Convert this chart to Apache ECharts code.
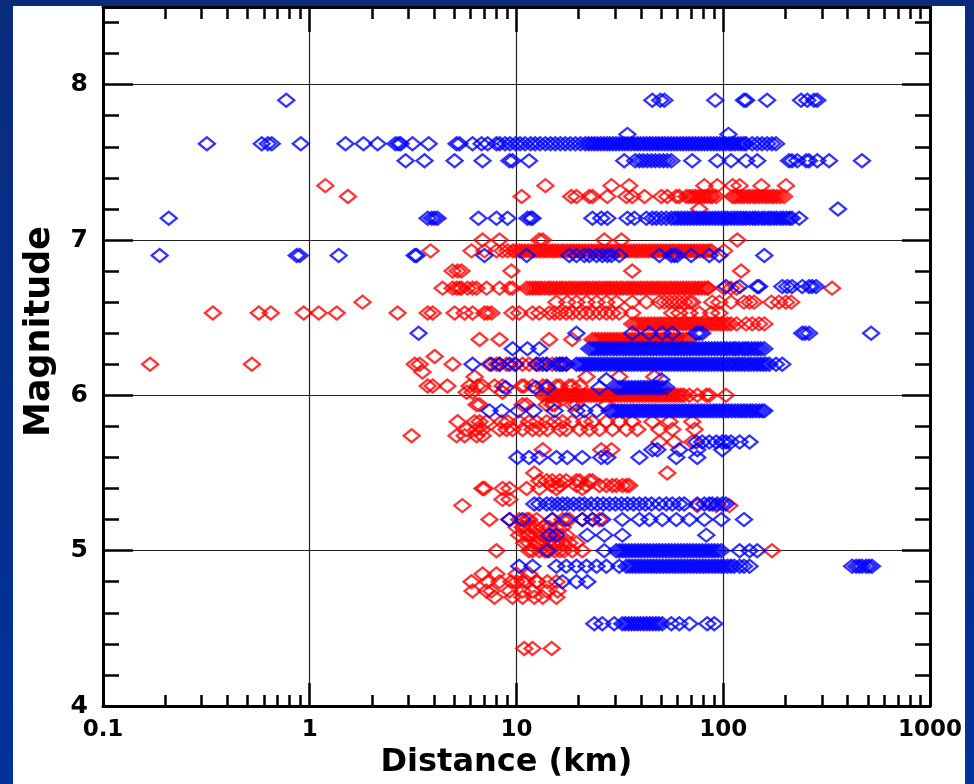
<!DOCTYPE html>
<html>
<head>
<meta charset="utf-8">
<script src="https://cdn.jsdelivr.net/npm/echarts@6/dist/echarts.min.js"></script>
<style>
  html, body { margin: 0; padding: 0; }
  body { width: 974px; height: 784px; overflow: hidden; background: linear-gradient(180deg, #0a2b7c 0%, #00339c 100%); position: relative; }
  #panel { position: absolute; left: 13px; top: 6px; width: 952px; height: 778px; background: #ffffff; }
  #chart { width: 952px; height: 778px; }
</style>
</head>
<body>
<div id="panel"><div id="chart"></div></div>
<script>
// ---------- tick labels ----------
const xTickValues = [0.1, 1, 10, 100, 1000];
const xMinorTicks = [0.2,0.3,0.4,0.5,0.6,0.7,0.8,0.9, 2,3,4,5,6,7,8,9, 20,30,40,50,60,70,80,90, 200,300,400,500,600,700,800,900];
const yTickValues = [4, 5, 6, 7, 8];
const yMinorTicks = [4.2,4.4,4.6,4.8, 5.2,5.4,5.6,5.8, 6.2,6.4,6.6,6.8, 7.2,7.4,7.6,7.8, 8.2,8.4];

// ---------- blue series (distance km per magnitude row) ----------
const blue_7_90 = [0.77, 45.4, 49.6, 51.9, 91.5, 126, 129, 163, 238, 255, 275, 285];
const blue_7_68 = [34.4, 106];
const blue_7_62 = [0.318, 0.586, 0.627, 0.655, 0.905, 1.49, 1.82, 2.13, 2.6, 2.69, 2.75, 3.14, 3.76, 5.13, 5.3, 6.13, 6.78, 7.25, 8.0,
  8.3, 8.8, 9.3, 9.9, 10.4, 11.0, 11.7, 12.3, 13.0, 13.8, 14.6, 15.4, 16.3, 17.2, 18.2, 19.3, 20.4, 21.5,
  22.3, 23.1, 23.9, 24.7, 25.6, 26.5, 27.4, 28.3, 29.3, 30.3, 31.4, 32.5, 33.6, 34.7, 35.9, 37.2, 38.5, 39.8, 41.2, 42.6,
  44.1, 45.6, 47.2, 48.8, 50.5, 52.2, 54.0, 55.9, 57.8, 59.8, 61.9, 64.0, 66.2, 68.5, 70.9, 73.3, 75.9, 78.5, 81.2, 84.0,
  86.9, 89.9, 93.0, 96.2, 99.6, 103, 107, 110, 114, 118, 122, 126, 129, 138, 146, 154, 163, 172, 180];
const blue_7_51 = [2.91, 3.59, 5.02, 6.85, 9.25, 9.56, 11.5, 33.2, 37.5, 39.3, 41.0, 42.9, 44.9, 46.9, 49.1, 51.3, 53.6, 56.1,
  70.8, 93.6, 109, 129, 146, 208, 215, 228, 252, 260, 285, 325, 469];
const blue_7_20 = [359];
const blue_7_14 = [0.208, 3.72, 3.89, 4.02, 4.15, 6.55, 8.0, 9.05, 11.3, 11.7, 11.95, 23.3, 25.7, 27.5, 34.4, 37.2, 42.5, 45.4,
  47.5, 50.2, 53.0, 56.1, 58.3, 60.4, 62.6, 64.9, 67.2, 69.6, 72.0, 74.5, 77.1, 79.8, 82.6, 85.5, 88.5, 91.6, 94.8, 98.1,
  102, 105, 109, 113, 117, 121, 125, 129, 134, 139, 143, 148, 154, 159, 165, 170, 176, 182, 189, 195, 202, 209, 215, 233];
const blue_6_90 = [0.188, 0.865, 0.895, 1.38, 3.22, 3.29, 7.0, 11.2, 18.0, 19.5, 21.3, 22.5, 24.4, 26.0, 27.5, 28.8, 31.4,
  49.1, 56.1, 58.0, 59.9, 70.0, 85.6, 95.7, 158];
const blue_6_70 = [103, 120, 146, 149, 193, 204, 215, 241, 260, 269, 281];
const blue_6_40 = [3.36, 19.5, 36.3, 43.9, 50.7, 56.7, 74.0, 76.5, 79.1, 241, 249, 260, 519];
const blue_6_30 = [9.58, 11.3, 12.9, 22.5, 23.3, 24.1, 24.9, 25.8, 26.7, 27.6, 28.6, 29.6, 30.6, 31.7, 32.8, 33.9, 35.1, 36.3,
  37.5, 38.8, 40.2, 41.6, 43.0, 44.5, 46.0, 47.6, 49.3, 51.0, 52.8, 54.6, 56.5, 58.4, 60.4, 62.5, 64.7, 66.9, 69.2, 71.6,
  74.1, 76.7, 79.4, 82.1, 85.0, 87.9, 91.0, 94.1, 97.4, 101, 104, 108, 112, 115, 119, 124, 128, 132, 137, 142, 147, 152, 158];
const blue_6_20 = [6.13, 7.56, 8.28, 9.25, 9.9, 12.5, 13.4, 14.0, 15.6, 16.2, 16.7, 17.4, 19.5, 20.2, 20.9, 21.6, 22.4, 23.1,
  23.9, 24.8, 25.6, 26.5, 27.4, 28.4, 29.4, 30.4, 31.5, 32.6, 33.7, 34.9, 36.1, 37.3, 38.6, 40.0, 41.3, 42.8, 44.3, 45.8,
  47.4, 49.0, 50.7, 52.5, 54.3, 56.2, 58.2, 60.2, 62.3, 64.4, 66.7, 69.0, 71.4, 73.8, 76.4, 79.0, 81.8, 84.6, 87.6, 90.6,
  93.7, 97.0, 100, 104, 107, 111, 115, 119, 123, 127, 132, 136, 141, 146, 151, 156, 161, 167, 180, 193];
const blue_6_10 = [27.2, 50.2];
const blue_6_05 = [8.85, 12.4, 14.1, 25.2, 30.4, 31.5, 32.6, 33.7, 34.9, 36.1, 37.4, 38.7, 40.0, 41.4, 42.8, 44.3, 45.9,
  47.5, 49.1, 50.8, 53.0];
const blue_5_90 = [7.40, 8.48, 10.2, 12.1, 15.3, 19.5, 21.3, 24.4, 28.2, 29.1, 30.1, 31.1, 32.2, 33.3, 34.5, 35.7, 36.9,
  38.2, 39.5, 40.9, 42.3, 43.8, 45.3, 46.9, 48.5, 50.2, 51.9, 53.7, 55.6, 57.5, 59.5, 61.6, 63.7, 65.9, 68.2, 70.6, 73.0,
  75.6, 78.2, 80.9, 83.7, 86.6, 89.6, 92.7, 95.9, 99.2, 103, 106, 110, 114, 118, 122, 126, 130, 135, 139, 144, 149, 154, 158];
const blue_5_70 = [74.0, 79.1, 85.6, 92.5, 98.9, 103, 109, 120, 134];
const blue_5_65 = [45.4, 48.0, 61.3, 74.9, 98.9];
const blue_5_60 = [10.1, 11.5, 12.9, 15.6, 17.6, 20.8, 25.7, 27.5, 39.3, 59.3, 74.9];
const blue_5_30 = [12.2, 12.9, 14.0, 14.8, 15.8, 16.7, 17.6, 18.9, 20.2, 21.3, 23.0, 24.6, 26.3, 28.2, 30.1, 32.2, 34.4,
  36.8, 39.3, 42.0, 44.9, 49.1, 53.0, 56.7, 61.3, 64.8, 74.9, 81.0, 85.6, 88.5, 93.6, 98.9, 103];
const blue_5_20 = [9.25, 10.7, 14.9, 17.4, 20.8, 23.3, 26.0, 32.5, 39.3, 43.9, 50.7, 59.3, 68.6, 81.0, 97.8, 126];
const blue_5_10 = [14.4, 15.6, 22.0, 26.6, 32.5, 82.8];
const blue_5_00 = [14.1, 26.6, 30.4, 31.5, 32.6, 33.7, 34.9, 36.1, 37.4, 38.7, 40.0, 41.4, 42.8, 44.3, 45.9, 47.5, 49.1,
  50.8, 52.6, 54.4, 56.3, 58.3, 60.3, 62.4, 64.6, 66.8, 69.1, 71.5, 74.0, 76.6, 79.3, 82.0, 84.9, 87.9, 90.9, 94.1, 97.8,
  120, 134, 146];
const blue_4_90 = [10.3, 11.95, 15.6, 17.4, 19.5, 21.8, 24.4, 27.2, 31.4, 34.0, 35.2, 36.4, 37.7, 39.0, 40.3, 41.7, 43.2,
  44.7, 46.2, 47.8, 49.5, 51.2, 53.0, 54.8, 56.7, 58.7, 60.7, 62.8, 65.0, 67.3, 69.6, 72.0, 74.5, 77.1, 79.8, 82.5, 85.4,
  88.4, 91.4, 94.6, 97.9, 101, 105, 109, 113, 120, 126, 134, 420, 439, 454, 469, 491, 507, 524];
const blue_4_80 = [16.7, 19.5, 22.0];
const blue_4_53 = [23.8, 26.0, 29.7, 32.5, 33.6, 34.8, 36.0, 37.2, 38.5, 39.8, 41.2, 42.6, 44.1, 45.6, 47.2, 48.8, 50.7,
  56.1, 61.3, 68.6, 83.7, 90.5];

// ---------- red series (distance km per magnitude row) ----------
const red_7_35 = [1.19, 13.8, 28.8, 35.1, 81.0, 93.6, 111, 120, 153, 201];
const red_7_28 = [1.53, 10.6, 18.4, 19.5, 22.5, 23.3, 27.5, 34.0, 36.3, 41.6, 50.2, 53.6, 59.3, 61.3, 66.3, 68.6, 70.8,
  73.3, 75.9, 78.6, 81.0, 83.7, 86.6, 88.5, 92.5, 111, 114, 118, 122, 126, 131, 135, 140, 144, 149, 154, 160, 165, 171,
  176, 182, 189, 197];
const red_7_20 = [76.5];
const red_7_00 = [6.85, 8.28, 12.9, 13.4, 26.6, 32.2, 117];
const red_6_93 = [3.84, 6.06, 7.0, 8.0, 8.56, 9.06, 9.6, 9.9, 10.3, 10.6, 11.0, 11.4, 11.8, 12.2, 12.6, 13.0, 13.5, 13.9,
  14.4, 14.9, 15.4, 15.9, 16.5, 17.0, 17.6, 18.2, 18.8, 19.5, 20.1, 20.8, 21.5, 22.3, 23.0, 23.8, 24.6, 25.5, 26.3, 27.2,
  28.2, 29.1, 30.1, 31.2, 32.2, 33.3, 34.5, 35.6, 36.9, 38.1, 39.4, 40.8, 42.2, 43.6, 45.1, 46.6, 48.2, 49.9, 51.6, 53.3,
  55.2, 57.0, 59.0, 61.0, 63.1, 65.2, 67.4, 69.7, 72.1, 74.6, 77.1, 79.7, 82.5, 85.3, 87.7, 101];
const red_6_80 = [4.91, 5.19, 5.42, 9.45, 36.3, 122];
const red_6_69 = [4.39, 4.91, 5.13, 5.30, 5.42, 5.80, 6.13, 6.41, 7.16, 8.28, 9.25, 9.56, 11.2, 11.6, 12.0, 12.4, 12.8,
  13.2, 13.7, 14.2, 14.6, 15.1, 15.6, 16.2, 16.7, 17.3, 17.9, 18.5, 19.1, 19.8, 20.5, 21.2, 21.9, 22.6, 23.4, 24.2, 25.0,
  25.9, 26.8, 27.7, 28.6, 29.6, 30.6, 31.7, 32.7, 33.9, 35.0, 36.2, 37.4, 38.7, 40.0, 41.4, 42.8, 44.3, 45.8, 47.4, 49.0,
  50.6, 52.4, 54.2, 56.0, 57.9, 59.9, 61.9, 64.0, 66.2, 68.5, 70.8, 73.2, 75.7, 78.3, 81.0, 83.7, 84.6, 101, 109, 116, 336];
const red_6_60 = [1.80, 15.6, 17.6, 19.5, 21.8, 24.4, 27.2, 30.4, 36.3, 42.5, 49.1, 51.9, 55.0, 58.0, 61.3, 64.8, 68.6,
  70.8, 88.5, 95.7, 109, 126, 134, 141, 171, 186, 201, 213];
const red_6_53 = [0.34, 0.567, 0.648, 0.935, 1.105, 1.35, 2.66, 3.72, 3.93, 5.02, 5.61, 6.13, 7.0, 7.25, 7.56, 9.56, 10.3,
  11.95, 12.9, 14.4, 15.3, 16.2, 17.4, 18.6, 20.2, 21.8, 23.3, 25.2, 27.2, 29.1, 31.4, 36.3, 56.7, 61.3, 68.6, 76.5, 87.5, 95.7];
const red_6_46 = [36.3, 37.6, 39.0, 40.4, 41.8, 43.3, 44.9, 46.5, 48.2, 49.9, 51.7, 53.5, 55.5, 57.5, 59.5, 61.7, 63.9,
  66.2, 68.6, 71.1, 73.6, 76.3, 79.0, 81.9, 84.8, 87.9, 91.0, 94.3, 97.7, 101, 105, 109, 116, 129, 138, 149, 158];
const red_6_36 = [6.63, 8.28, 14.4, 18.6, 23.3, 24.1, 24.9, 25.8, 26.7, 27.6, 28.5, 29.5, 30.5, 31.5, 32.6, 33.7, 34.9,
  36.1, 37.3, 38.6, 39.9, 41.3, 42.7, 44.1, 45.6, 47.2, 48.8, 50.5, 52.2, 54.0, 55.8, 57.7, 59.7, 61.7, 63.8, 66.0, 68.3];
const red_6_25 = [4.02];
const red_6_20 = [0.169, 0.525, 3.22, 3.40, 4.91, 7.40, 8.0, 8.28, 8.95, 9.78, 10.7, 11.5, 12.5, 12.9, 14.0, 14.9, 16.2, 16.7, 17.4];
const red_6_15 = [3.51];
const red_6_12 = [6.27, 21.8, 31.4, 46.4];
const red_6_06 = [3.72, 3.93, 4.63, 5.93, 6.48, 6.85, 7.83, 8.56, 10.6, 10.9, 11.95, 13.4, 14.0, 15.6, 16.2, 18.0, 18.6, 20.2];
const red_6_02 = [5.74, 6.13, 8.56];
const red_6_00 = [13.4, 13.9, 14.3, 14.8, 15.3, 15.8, 16.4, 16.9, 17.5, 18.1, 18.7, 19.4, 20.0, 20.7, 21.4, 22.1, 22.9,
  23.7, 24.5, 25.3, 26.2, 27.1, 28.0, 28.9, 29.9, 30.9, 32.0, 33.1, 34.2, 35.4, 36.6, 37.8, 39.1, 40.4, 41.8, 43.2, 44.7,
  46.2, 47.8, 49.4, 51.1, 52.8, 54.6, 56.5, 58.4, 60.4, 62.5, 64.6, 68.6, 74.9, 82.8, 85.6, 103];
const red_5_94 = [6.41, 6.63, 10.7, 11.2, 14.0, 14.9, 15.3, 18.6, 19.5, 27.2];
const red_5_83 = [5.19, 6.27, 6.63, 7.16, 8.48, 9.06, 10.3, 11.5, 12.5, 14.0, 15.3, 16.7, 18.6, 21.3, 23.3, 27.2, 31.4, 36.3, 45.4, 55.0, 70.8];
const red_5_78 = [5.74, 6.41, 6.85, 8.28, 8.95, 9.56, 10.7, 11.95, 12.9, 14.1, 16.2, 17.4, 20.2, 22.5, 25.2, 29.1, 34.0, 38.4, 49.1, 56.7, 72.7];
const red_5_74 = [3.11, 5.13, 5.61, 6.41, 6.85];
const red_5_70 = [49.1, 58.0, 70.8];
const red_5_65 = [13.4, 25.7, 28.8];
const red_5_50 = [12.2, 53.6];
const red_5_45 = [12.9, 14.0, 14.9, 16.2, 17.4, 19.5, 20.2, 22.5, 23.3];
const red_5_42 = [14.8, 16.2, 19.5, 21.8, 25.2, 27.2, 29.1, 30.4, 32.5, 34.0, 35.1];
const red_5_40 = [6.85, 7.0, 8.56, 9.25, 11.2, 12.9, 15.6, 20.8];
const red_5_33 = [8.56, 9.25];
const red_5_29 = [5.47, 74.9, 92.5, 107];
const red_5_20 = [7.40, 9.25, 10.3, 11.2, 11.5, 12.5, 14.9, 16.7, 18.0, 20.8, 23.3, 25.2];
const red_5_15 = [10.0, 10.7, 11.2, 11.95, 12.5, 13.4, 14.4, 15.6, 16.7];
const red_5_10 = [10.3, 11.2, 11.5, 12.5, 13.4, 14.0, 14.9, 16.2, 17.4];
const red_5_05 = [10.9, 11.5, 12.5, 12.9, 14.0, 14.9, 15.6, 16.7, 18.0, 19.5];
const red_5_00 = [8.0, 11.5, 11.95, 12.9, 13.7, 14.4, 15.3, 16.2, 17.0, 18.6, 20.8, 172];
const red_4_85 = [6.85, 8.0, 10.0, 11.5];
const red_4_80 = [6.06, 7.25, 8.28, 9.45, 10.0, 10.7, 11.2, 12.5, 12.6, 14.1, 15.6];
const red_4_74 = [6.13, 7.16, 7.56, 9.25, 10.7, 11.95, 14.0, 15.8];
const red_4_70 = [7.83, 9.56, 10.7, 12.2, 13.4, 15.6];
const red_4_37 = [10.9, 11.95, 14.8];

const blueRows = [
  [7.90, blue_7_90], [7.68, blue_7_68], [7.62, blue_7_62], [7.51, blue_7_51], [7.20, blue_7_20], [7.14, blue_7_14],
  [6.90, blue_6_90], [6.70, blue_6_70], [6.40, blue_6_40], [6.30, blue_6_30], [6.20, blue_6_20], [6.10, blue_6_10],
  [6.05, blue_6_05], [5.90, blue_5_90], [5.70, blue_5_70], [5.65, blue_5_65], [5.60, blue_5_60], [5.30, blue_5_30],
  [5.20, blue_5_20], [5.10, blue_5_10], [5.00, blue_5_00], [4.90, blue_4_90], [4.80, blue_4_80], [4.53, blue_4_53]
];
const redRows = [
  [7.35, red_7_35], [7.28, red_7_28], [7.20, red_7_20], [7.00, red_7_00], [6.93, red_6_93], [6.80, red_6_80],
  [6.69, red_6_69], [6.60, red_6_60], [6.53, red_6_53], [6.46, red_6_46], [6.36, red_6_36], [6.25, red_6_25],
  [6.20, red_6_20], [6.15, red_6_15], [6.12, red_6_12], [6.06, red_6_06], [6.02, red_6_02], [6.00, red_6_00],
  [5.94, red_5_94], [5.83, red_5_83], [5.78, red_5_78], [5.74, red_5_74], [5.70, red_5_70], [5.65, red_5_65],
  [5.50, red_5_50], [5.45, red_5_45], [5.42, red_5_42], [5.40, red_5_40], [5.33, red_5_33], [5.29, red_5_29],
  [5.20, red_5_20], [5.15, red_5_15], [5.10, red_5_10], [5.05, red_5_05], [5.00, red_5_00], [4.85, red_4_85],
  [4.80, red_4_80], [4.74, red_4_74], [4.70, red_4_70], [4.37, red_4_37]
];

function toPoints(rows) {
  const out = [];
  rows.forEach(function (r) { r[1].forEach(function (d) { out.push([d, r[0]]); }); });
  return out;
}

const FONT = 'DejaVu Sans';
const labelStyle = { fontFamily: FONT, fontWeight: 'bold', fontSize: 23, color: '#000' };
const axisLineStyle = { show: true, lineStyle: { color: '#000', width: 3 } };
const tickStyle = { color: '#000', width: 2.5 };

function xLog(extra) {
  return Object.assign({ type: 'log', logBase: 10, min: 0.1, max: 1000, gridIndex: 0 }, extra);
}
function yVal(extra) {
  return Object.assign({ type: 'value', min: 4, max: 8.5, interval: 1, gridIndex: 0 }, extra);
}

const option = {
  animation: false,
  backgroundColor: '#ffffff',
  grid: { left: 90, top: 1, width: 827, height: 701, show: false },
  xAxis: [
    xLog({
      position: 'bottom',
      axisLine: axisLineStyle,
      axisTick: { show: true, inside: true, length: 23, lineStyle: tickStyle, customValues: xTickValues },
      axisLabel: Object.assign({ margin: 13, customValues: xTickValues,
        formatter: function (v) { return String(Math.round(v * 10) / 10); } }, labelStyle),
      splitLine: { show: true, lineStyle: { color: '#222', width: 1.2 } },
      name: 'Distance (km)', nameLocation: 'middle', nameGap: 41,
      nameTextStyle: { fontFamily: FONT, fontWeight: 'bold', fontSize: 32, color: '#000', padding: [0, 20, 0, 0] }
    }),
    xLog({
      position: 'top',
      axisLine: axisLineStyle,
      axisTick: { show: true, inside: true, length: 25, lineStyle: tickStyle, customValues: xTickValues },
      axisLabel: { show: false }, splitLine: { show: false }
    }),
    xLog({
      position: 'bottom', axisLine: { show: false },
      axisTick: { show: true, inside: true, length: 11, lineStyle: tickStyle, customValues: xMinorTicks },
      axisLabel: { show: false }, splitLine: { show: false }
    }),
    xLog({
      position: 'top', axisLine: { show: false },
      axisTick: { show: true, inside: true, length: 12, lineStyle: tickStyle, customValues: xMinorTicks },
      axisLabel: { show: false }, splitLine: { show: false }
    })
  ],
  yAxis: [
    yVal({
      position: 'left',
      axisLine: axisLineStyle,
      axisTick: { show: true, inside: true, length: 30, lineStyle: tickStyle, customValues: yTickValues },
      axisLabel: Object.assign({ margin: 15, customValues: yTickValues }, labelStyle, { fontSize: 25 }),
      splitLine: { show: true, lineStyle: { color: '#222', width: 1.2 } },
      name: 'Magnitude', nameLocation: 'middle', nameGap: 46,
      nameTextStyle: { fontFamily: FONT, fontWeight: 'bold', fontSize: 35, color: '#000', padding: [0, 0, 0, 50] }
    }),
    yVal({
      position: 'right',
      axisLine: axisLineStyle,
      axisTick: { show: true, inside: true, length: 28, lineStyle: tickStyle, customValues: yTickValues },
      axisLabel: { show: false }, splitLine: { show: false }
    }),
    yVal({
      position: 'left', axisLine: { show: false },
      axisTick: { show: true, inside: true, length: 16, lineStyle: tickStyle, customValues: yMinorTicks },
      axisLabel: { show: false }, splitLine: { show: false }
    }),
    yVal({
      position: 'right', axisLine: { show: false },
      axisTick: { show: true, inside: true, length: 15, lineStyle: tickStyle, customValues: yMinorTicks },
      axisLabel: { show: false }, splitLine: { show: false }
    })
  ],
  series: [
    {
      type: 'scatter', name: 'red', xAxisIndex: 0, yAxisIndex: 0, silent: true,
      symbol: 'diamond', symbolSize: [16, 13],
      itemStyle: { color: 'rgba(255,255,255,0)', borderColor: '#ff0000', borderWidth: 2.3 },
      data: toPoints(redRows)
    },
    {
      type: 'scatter', name: 'blue', xAxisIndex: 0, yAxisIndex: 0, silent: true,
      symbol: 'diamond', symbolSize: [16, 13],
      itemStyle: { color: 'rgba(255,255,255,0)', borderColor: '#0000ff', borderWidth: 2.3 },
      data: toPoints(blueRows)
    }
  ]
};

const chart = echarts.init(document.getElementById('chart'), null, { renderer: 'canvas' });
chart.setOption(option);
</script>
</body>
</html>
